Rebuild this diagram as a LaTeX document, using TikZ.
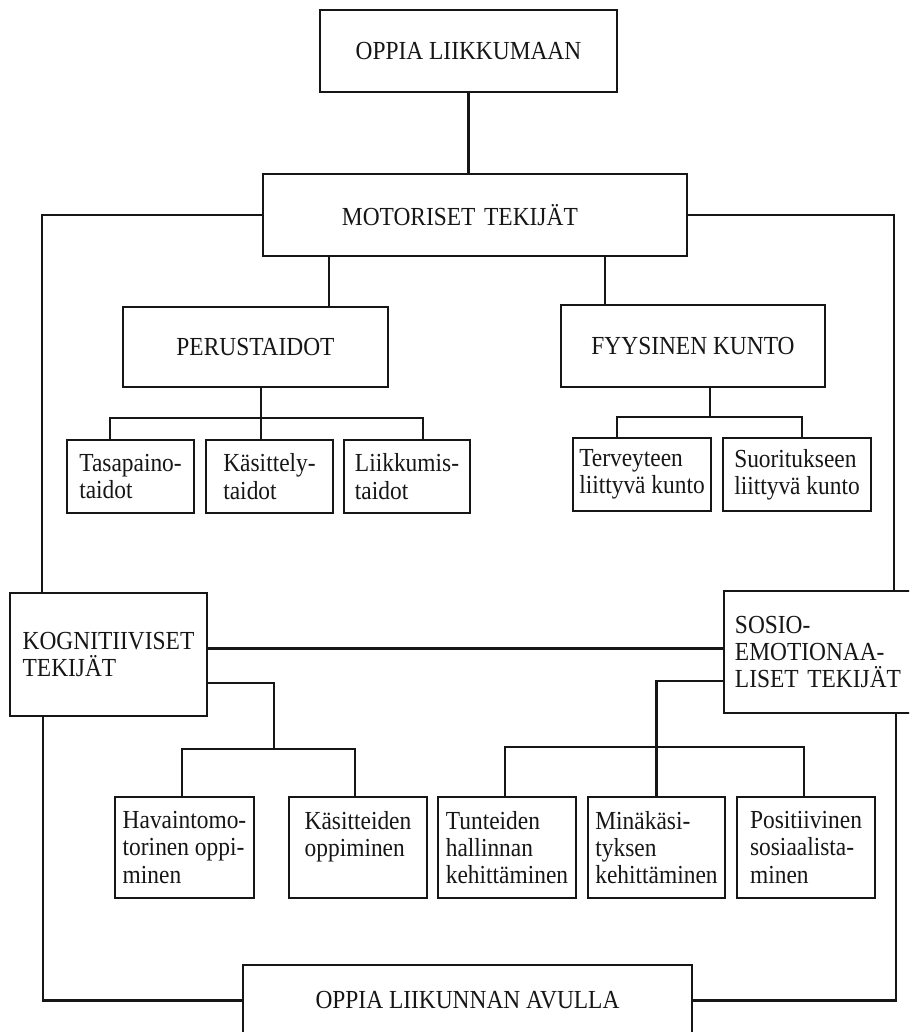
\documentclass[tikz,border=0pt]{standalone}
\usepackage{fontspec}
\setmainfont[FakeStretch=0.9]{Liberation Serif}
\usetikzlibrary{calc}

\definecolor{chartInk}{RGB}{22,22,22}
\definecolor{chartPaper}{RGB}{255,255,255}

\begin{document}
\begin{tikzpicture}[x=.025cm,y=-.025cm,
      box/.style={draw=chartInk, line width=1.5pt, inner sep=2pt,
        font=\fontsize{18.5}{19.4}\selectfont, text=chartInk},
      bigbox/.style={box, align=center},
      smallbox/.style={box, align=left},
      link/.style={draw=chartInk, line width=1.5pt}]
      \useasboundingbox (0,0) rectangle (909,1032);
      \fill[chartPaper] (0,0) rectangle (909,1032);
      \clip (0,0) rectangle (909,1032);

      % upper half
      \node[bigbox, minimum width=7.425cm, minimum height=2.05cm] (top)
        at (468.5,51) {OPPIA LIIKKUMAAN};
      \node[box, align=left, text width=6.65cm, minimum width=10.6cm,
        minimum height=2.05cm] (motor) at (475,215) {MOTORISET TEKIJÄT};
      \node[bigbox, minimum width=6.625cm, minimum height=2cm] (perus)
        at (255.5,347) {PERUSTAIDOT};
      \node[bigbox, minimum width=6.6cm, minimum height=2.05cm] (fyys)
        at (693,346) {FYYSINEN KUNTO};

      \node[smallbox, minimum width=3.175cm, minimum height=1.825cm] (tasa)
        at (130.5,476.5) {Tasapaino-\\taidot};
      \node[smallbox, minimum width=3.175cm, minimum height=1.825cm] (kasi)
        at (269.5,476.5) {Käsittely-\\taidot};
      \node[smallbox, minimum width=3.15cm, minimum height=1.825cm] (liik)
        at (407,476.5) {Liikkumis-\\taidot};
      \node[smallbox, minimum width=3.45cm, minimum height=1.825cm] (terv)
        at (642,474.5) {Terveyteen\\liittyvä kunto};
      \node[smallbox, minimum width=3.7cm, minimum height=1.825cm] (suor)
        at (797,474.5) {Suoritukseen\\liittyvä kunto};

      % side boxes
      \node[smallbox, minimum width=4.925cm, minimum height=3.075cm] (kogn)
        at (108.5,654.5) {KOGNITIIVISET\\TEKIJÄT};
      \node[box, align=left, text width=4.225cm, minimum width=4.775cm,
        minimum height=3.05cm] (sosio) at (819.5,652)
        {SOSIO-\\EMOTIONAA-\\LISET TEKIJÄT};

      % lower half
      \node[smallbox, minimum width=3.475cm, minimum height=2.525cm] (hav)
        at (184.5,847.5) {Havaintomo-\\torinen oppi-\\minen};
      \node[smallbox, minimum width=3.45cm, minimum height=2.525cm] (kte)
        at (358,847.5) {Käsitteiden\\oppiminen\\\mbox{}};
      \node[smallbox, minimum width=3.45cm, minimum height=2.525cm] (tun)
        at (507,847.5) {Tunteiden\\hallinnan\\kehittäminen};
      \node[smallbox, minimum width=3.425cm, minimum height=2.525cm] (min)
        at (656.5,847.5) {Minäkäsi-\\tyksen\\kehittäminen};
      \node[smallbox, minimum width=3.45cm, minimum height=2.525cm] (pos)
        at (806,847.5) {Positiivinen\\sosiaalista-\\minen};
      \node[bigbox, minimum width=11.225cm, minimum height=1.775cm] (bottom)
        at (467.5,1000.5) {OPPIA LIIKUNNAN AVULLA};

      % connectors
      \coordinate (perustop) at ($(perus.north west)+(207,0)$);
      \coordinate (fyystop) at ($(fyys.north west)+(45,0)$);
      \coordinate (tasatop) at ($(tasa.north west)+(44,0)$);
      \coordinate (kasitop) at ($(kasi.north west)+(56,0)$);
      \coordinate (liiktop) at ($(liik.north west)+(80,0)$);
      \coordinate (tervtop) at ($(terv.north west)+(45,0)$);
      \coordinate (suortop) at ($(suor.north west)+(80,0)$);
      \coordinate (havtop) at ($(hav.north west)+(68,0)$);
      \coordinate (ktetop) at ($(kte.north west)+(67,0)$);
      \coordinate (tuntop) at ($(tun.north west)+(68,0)$);
      \coordinate (postop) at ($(pos.north west)+(68,0)$);

      \draw[link] (top.south) -- (top.south |- motor.north);
      \draw[link] (motor.south -| perustop) -- (perustop);
      \draw[link] (motor.south -| fyystop) -- (fyystop);

      \draw[link] (perus.south -| kasitop) -- (kasitop);
      \draw[link] (tasatop) -- ++(0,-21) -| (liiktop);
      \draw[link] (tervtop) -- ++(0,-20) coordinate (fyysbar) -| (suortop);
      \draw[link] ($(fyys.south)+(17,0)$) coordinate (fyystrunk)
        -- (fyystrunk |- fyysbar);

      \draw[link] (motor.west) -| ($(kogn.north west)+(33,0)$);
      \draw[link] (motor.east) -| ($(sosio.north west)+(171,0)$);
      \draw[link] ($(kogn.east)+(0,-6)$) coordinate (kognlink)
        -- (kognlink -| sosio.west);

      \draw[link] (havtop) -- ++(0,-47) coordinate (kognbar) -| (ktetop);
      \draw[link] ($(kogn.east)+(0,28.5)$) -| ($(kognbar)+(92,0)$);
      \draw[link] (tuntop) -- ++(0,-49) -| (postop);
      \draw[link] ($(sosio.west)+(0,29)$) -| (min.north);

      \draw[link] ($(kogn.south west)+(34,0)$) |- (bottom.west);
      \draw[link] ($(sosio.south west)+(173,0)$) |- (bottom.east);
    \end{tikzpicture}
\end{document}
